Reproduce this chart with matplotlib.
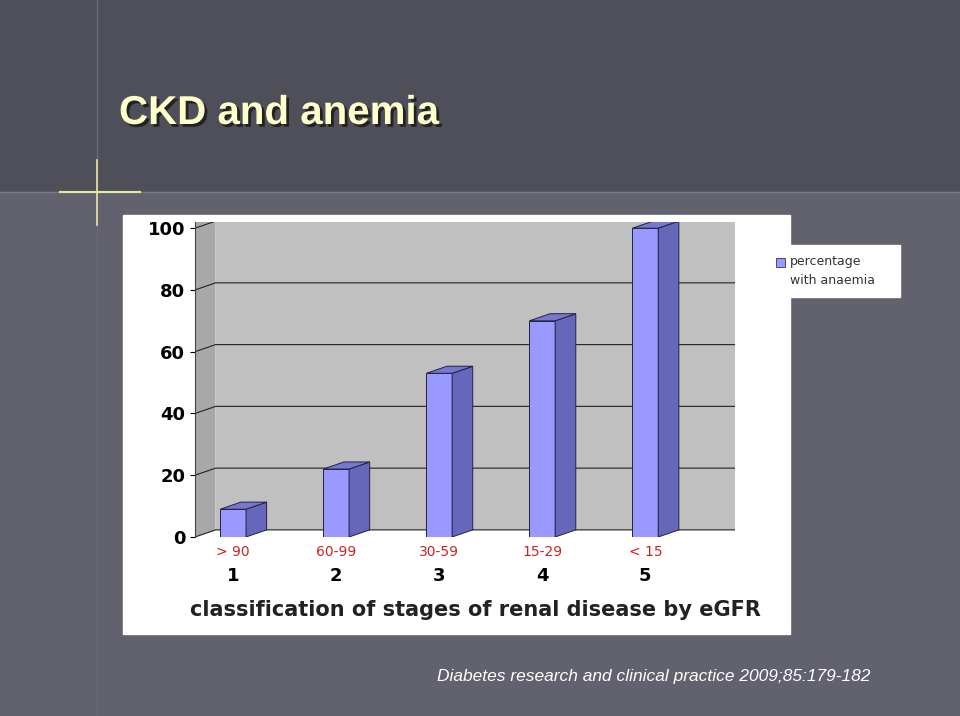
import matplotlib
matplotlib.use("Agg")
import matplotlib.pyplot as plt
import matplotlib.patheffects as pe
from matplotlib.patches import Polygon, Rectangle

# data
stages = ["1", "2", "3", "4", "5"]
egfr = ["> 90", "60-99", "30-59", "15-29", "< 15"]
pct_anaemia = [9, 22, 53, 70, 100]
yticks = [0, 20, 40, 60, 80, 100]

W, H = 960, 716
fig = plt.figure(figsize=(W / 100, H / 100), dpi=100)
fig.patch.set_facecolor("#575763")

# slide decoration
bg = fig.add_axes([0, 0, 1, 1], zorder=-5)
bg.set_xlim(0, W); bg.set_ylim(H, 0); bg.axis("off")
bg.add_patch(Rectangle((0, 0), W, 192, color="#4f4f5a"))
bg.add_patch(Rectangle((0, 192), W, H - 192, color="#62626e"))
bg.plot([0, W], [192, 192], color="#7c7c86", lw=1)
bg.plot([97, 97], [0, H], color="#6a6a74", lw=1)
bg.plot([60, 140], [192, 192], color="#e8e8a0", lw=1.5)
bg.plot([97, 97], [160, 225], color="#e8e8a0", lw=1.2)
bg.text(119, 113, "CKD and anemia", fontsize=29, fontweight="bold", color="#ffffcc",
        va="center", family="Liberation Sans",
        path_effects=[pe.withSimplePatchShadow(offset=(2, -2), shadow_rgbFace="#222222", alpha=1)])
bg.add_patch(Rectangle((123, 215), 667, 419, color="white"))
bg.add_patch(Rectangle((770, 245), 130, 52, color="white"))
bg.add_patch(Rectangle((776, 258), 9, 9, facecolor="#9999ff", edgecolor="#333366", lw=0.6))
bg.text(790, 271, "percentage\nwith anaemia", fontsize=9, color="#333333", va="center", linespacing=1.5)
bg.text(870, 676, "Diabetes research and clinical practice 2009;85:179-182",
        fontsize=12.5, style="italic", color="white", ha="right", va="center",
        family="Liberation Sans")

# chart
ax = fig.add_axes([195 / W, 1 - 537 / H, (735 - 195) / W, (537 - 222) / H])
ax.set_xlim(-0.37, 4.87)
ax.set_ylim(0, 102)
dx, dy = 0.2, 2.3
bw = 0.25
# back wall
ax.add_patch(Rectangle((-0.17, dy), 5.04, 102, facecolor="#c0c0c0", edgecolor="none", zorder=0))
ax.add_patch(Polygon([(-0.37, 0), (-0.17, dy), (-0.17, 102), (-0.37, 102)],
                     facecolor="#a8a8a8", edgecolor="none", zorder=0))
for t in yticks:
    ax.plot([-0.37, -0.17, 4.87], [t, t + dy, t + dy], color="#222222", lw=0.8, zorder=1)
for i, v in enumerate(pct_anaemia):
    x0 = i - bw / 2
    ax.add_patch(Rectangle((x0, 0), bw, v, facecolor="#9999ff", edgecolor="#222244", lw=0.7, zorder=3))
    ax.add_patch(Polygon([(x0 + bw, 0), (x0 + bw + dx, dy), (x0 + bw + dx, v + dy), (x0 + bw, v)],
                         facecolor="#6666bb", edgecolor="#222244", lw=0.7, zorder=3))
    ax.add_patch(Polygon([(x0, v), (x0 + dx, v + dy), (x0 + bw + dx, v + dy), (x0 + bw, v)],
                         facecolor="#7777cc", edgecolor="#222244", lw=0.7, zorder=3))
ax.set_yticks(yticks)
ax.set_yticklabels([str(t) for t in yticks], fontsize=13, fontweight="bold")
ax.set_xticks(range(len(stages)))
ax.set_xticklabels([])
ax.tick_params(axis="x", length=0)
for s in ["top", "right", "bottom"]:
    ax.spines[s].set_visible(False)
ax.spines["left"].set_color("#444444")
ax.set_facecolor("none")
for i, (lab, st) in enumerate(zip(egfr, stages)):
    ax.annotate(lab, (i, 0), xytext=(0, -11), textcoords="offset points",
                ha="center", va="center", color="#cc2222", fontsize=10)
    ax.annotate(st, (i, 0), xytext=(0, -28), textcoords="offset points",
                ha="center", va="center", fontsize=13, fontweight="bold")
ax.set_xlabel("classification of stages of renal disease by eGFR", fontsize=15,
              fontweight="bold", color="#222222")
ax.xaxis.set_label_coords(0.52, -0.20)

fig.savefig("out.png", dpi=100, facecolor=fig.get_facecolor())
